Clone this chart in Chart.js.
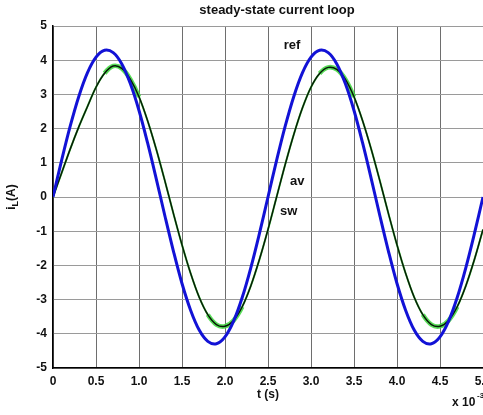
<!DOCTYPE html>
<html>
<head>
<meta charset="utf-8">
<script src="https://cdn.jsdelivr.net/npm/chart.js@4"></script>
<style>
  html,body{margin:0;padding:0;background:#fff;overflow:hidden;}
  canvas{display:block;}
</style>
</head>
<body>
<canvas id="loop" width="483" height="415"></canvas>
<script>
/* steady-state current loop: ref / av / sw inductor current */

// time axis, x 10^-3 s
const tMs = [0,0.1,0.2,0.3,0.4,0.5,0.6,0.7,0.8,0.9,1.0,1.1,1.2,1.3,1.4,1.5,1.6,1.7,1.8,1.9,2.0,
  2.1,2.2,2.3,2.4,2.5,2.6,2.7,2.8,2.9,3.0,3.1,3.2,3.3,3.4,3.5,3.6,3.7,3.8,3.9,4.0,
  4.1,4.2,4.3,4.4,4.5,4.6,4.7,4.8,4.9,5.0];

// reference current (blue)
const refCurrent = [0,1.07,2.07,2.94,3.63,4.09,4.29,4.22,3.89,3.31,2.53,1.58,0.54,-0.54,-1.58,-2.53,-3.31,-3.89,-4.22,-4.29,-4.09,
  -3.63,-2.94,-2.07,-1.07,0,1.07,2.07,2.94,3.63,4.09,4.29,4.22,3.89,3.31,2.53,1.58,0.54,-0.54,-1.58,-2.53,
  -3.31,-3.89,-4.22,-4.29,-4.09,-3.63,-2.94,-2.07,-1.07,0];

// averaged current (thin black)
const avCurrent = [0,0.70,1.40,2.05,2.64,3.21,3.62,3.83,3.76,3.44,2.93,2.23,1.40,0.48,-0.48,-1.40,-2.23,-2.93,-3.44,-3.73,-3.78,
  -3.61,-3.21,-2.60,-1.83,-0.95,0,0.95,1.83,2.60,3.21,3.61,3.79,3.73,3.44,2.93,2.23,1.40,0.48,-0.48,-1.40,
  -2.23,-2.93,-3.44,-3.73,-3.78,-3.61,-3.21,-2.60,-1.83,-0.95];

// switched current (thick green, under the black one)
const swCurrent = [0,0.70,1.40,2.05,2.64,3.21,3.62,3.83,3.76,3.44,2.93,2.23,1.40,0.48,-0.48,-1.40,-2.23,-2.93,-3.44,-3.73,-3.78,
  -3.61,-3.21,-2.60,-1.83,-0.95,0,0.95,1.83,2.60,3.21,3.61,3.79,3.73,3.44,2.93,2.23,1.40,0.48,-0.48,-1.40,
  -2.23,-2.93,-3.44,-3.73,-3.78,-3.61,-3.21,-2.60,-1.83,-0.95];

const curveLabels = [
  {text:'ref', t:2.78, i:4.42},
  {text:'av',  t:2.84, i:0.47},
  {text:'sw',  t:2.74, i:-0.41},
];

const FONT = '"Liberation Sans", Arial, sans-serif';
const pts = arr => tMs.map((t,i)=>({x:t, y:arr[i]}));

const textPlugin = {id:'texts', afterDraw(chart){
  const {ctx, scales:{x,y}} = chart;
  ctx.save();
  ctx.fillStyle = '#111';
  ctx.textBaseline = 'middle';
  // title
  ctx.font = 'bold 13px '+FONT;
  ctx.textAlign = 'center';
  ctx.fillText('steady-state current loop', 277, 10);
  // curve names
  curveLabels.forEach(l=>{
    ctx.fillText(l.text, x.getPixelForValue(l.t), y.getPixelForValue(l.i));
  });
  // x 10^-3
  ctx.font = 'bold 12px '+FONT;
  ctx.textAlign = 'left';
  ctx.fillText('x 10', 452, 403);
  ctx.font = 'bold 8px '+FONT;
  ctx.fillText('-3', 477, 396);
  // y title i_L(A)
  ctx.translate(12, y.getPixelForValue(0));
  ctx.rotate(-Math.PI/2);
  ctx.font = 'bold 12px '+FONT;
  const wI = ctx.measureText('i').width;
  ctx.font = 'bold 9px '+FONT;
  const wL = ctx.measureText('L').width;
  ctx.font = 'bold 12px '+FONT;
  const wA = ctx.measureText('(A)').width;
  let px = -(wI+wL+wA)/2;
  ctx.fillText('i', px, 0); px += wI;
  ctx.font = 'bold 9px '+FONT;
  ctx.fillText('L', px, 4); px += wL;
  ctx.font = 'bold 12px '+FONT;
  ctx.fillText('(A)', px, 0);
  ctx.restore();
}};

new Chart(document.getElementById('loop'), {
  type:'line',
  data:{datasets:[
    {label:'ref', data:pts(refCurrent), borderColor:'#1212d6', borderWidth:3, pointRadius:0, tension:0.35, fill:false},
    {label:'av',  data:pts(avCurrent),  borderColor:'#071a07', borderWidth:1.5, pointRadius:0, tension:0.35, fill:false},
    {label:'sw',  data:pts(swCurrent),  borderColor:'rgba(60,215,60,0.85)', borderWidth:2, pointRadius:0, tension:0.35, fill:false,
      segment:{borderWidth:c=>Math.abs(c.p0.parsed.y)>3.3 ? 4.6 : 2}},
  ]},
  options:{
    responsive:false, animation:false,
    layout:{padding:{top:26,left:0,right:0,bottom:0}},
    plugins:{legend:{display:false}, tooltip:{enabled:false}},
    scales:{
      x:{type:'linear', min:0, max:5,
        grid:{color:'#6e6e6e', lineWidth:1, drawTicks:false},
        border:{color:'#000', width:1.5},
        ticks:{stepSize:0.5, autoSkip:false, maxRotation:0, padding:6, color:'#111', font:{family:FONT, size:12, weight:'bold'}},
        title:{display:true, text:'t (s)', color:'#111', padding:{top:0,bottom:13}, font:{family:FONT, size:12, weight:'bold'}},
        afterFit(s){ s.height = 47; s.paddingLeft = 0; s.paddingRight = 0; }
      },
      y:{min:-5, max:5,
        grid:{color:'#9a9a9a', lineWidth:1, drawTicks:false},
        border:{color:'#000', width:1.5},
        ticks:{stepSize:1, padding:6, color:'#111', font:{family:FONT, size:12, weight:'bold'}},
        afterFit(s){ s.width = 53; s.paddingTop = 0; s.paddingBottom = 0; }
      }
    }
  },
  plugins:[textPlugin]
});
</script>
</body>
</html>
